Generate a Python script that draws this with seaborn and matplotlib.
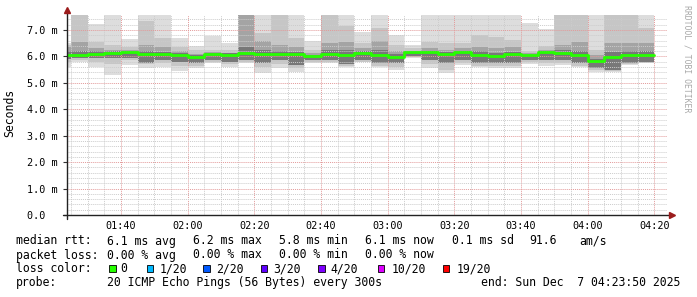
import numpy as np
import pandas as pd
import matplotlib
matplotlib.use("Agg")
import matplotlib.pyplot as plt
import matplotlib.dates as mdates
from matplotlib.patches import Rectangle
from matplotlib.ticker import MultipleLocator, FixedLocator, FixedFormatter
import seaborn as sns

# ---------------- data (ms) ----------------
bar_start = pd.date_range("2025-12-07 01:20", periods=36, freq="5min")
t_start = pd.Timestamp("2025-12-07 01:23:50")
t_end = pd.Timestamp("2025-12-07 04:23:50")

max_ms = [6.51, 7.6, 7.24, 7.6, 6.65, 7.6, 7.6, 6.69, 6.39, 6.77, 6.50, 7.6,
          7.6, 7.6, 7.6, 6.60, 7.6, 7.6, 6.94, 7.6, 6.81, 6.43, 7.6, 7.6,
          7.6, 7.6, 7.6, 7.6, 7.26, 7.02, 7.6, 7.6, 7.6, 7.6, 7.6, 7.6]
hi2_ms = [6.45, 7.6, 6.56, 6.43, 6.36, 7.35, 6.70, 6.36, 6.24, 6.24, 6.24, 7.6,
          6.89, 7.6, 6.70, 6.24, 7.6, 7.15, 6.50, 7.06, 6.43, 6.30, 6.55, 6.50,
          6.50, 6.81, 6.75, 6.62, 6.20, 6.39, 7.6, 7.6, 6.24, 7.6, 7.6, 7.06]
hi3_ms = [6.35, 6.56, 6.32, 6.25, 6.25, 6.43, 6.35, 6.20, 6.10, 6.15, 6.12, 7.6,
          6.60, 6.43, 6.35, 6.12, 6.50, 6.55, 6.30, 6.60, 6.20, 6.22, 6.30, 6.25,
          6.30, 6.37, 6.32, 6.35, 6.12, 6.25, 6.43, 6.55, 6.05, 6.50, 6.50, 6.50]
hi4_ms = [6.20, 6.20, 6.20, 6.20, 6.22, 6.20, 6.18, 6.12, 6.05, 6.12, 6.12, 6.35,
          6.25, 6.20, 6.18, 6.07, 6.25, 6.25, 6.20, 6.25, 6.10, 6.18, 6.22, 6.15,
          6.20, 6.20, 6.12, 6.18, 6.07, 6.20, 6.25, 6.20, 5.92, 6.15, 6.20, 6.22]
med_ms = [6.05, 6.06, 6.10, 6.13, 6.16, 6.10, 6.08, 6.04, 5.98, 6.09, 6.07, 6.13,
          6.10, 6.09, 6.09, 6.01, 6.10, 6.07, 6.14, 6.07, 5.98, 6.15, 6.16, 6.09,
          6.15, 6.07, 6.01, 6.09, 6.04, 6.18, 6.14, 6.05, 5.83, 5.98, 6.07, 6.07]
lo3_ms = [5.90, 5.94, 5.94, 5.94, 5.94, 5.75, 5.86, 5.80, 5.75, 5.86, 5.80, 5.86,
          5.74, 5.86, 5.68, 5.86, 5.86, 5.70, 5.86, 5.75, 5.74, 6.00, 5.86, 5.74,
          5.86, 5.74, 5.74, 5.74, 5.86, 5.86, 5.86, 5.74, 5.55, 5.49, 5.74, 5.80]
lo2_ms = [5.80, 5.88, 5.80, 5.70, 5.85, 5.70, 5.75, 5.65, 5.65, 5.80, 5.72, 5.80,
          5.60, 5.72, 5.55, 5.80, 5.78, 5.65, 5.80, 5.65, 5.60, 5.96, 5.70, 5.50,
          5.75, 5.65, 5.62, 5.62, 5.80, 5.75, 5.75, 5.65, 5.48, 5.45, 5.70, 5.76]
min_ms = [5.60, 5.80, 5.61, 5.30, 5.68, 5.56, 5.61, 5.46, 5.56, 5.75, 5.61, 5.75,
          5.36, 5.58, 5.42, 5.74, 5.74, 5.61, 5.78, 5.61, 5.49, 5.93, 5.55, 5.36,
          5.68, 5.61, 5.55, 5.55, 5.72, 5.65, 5.68, 5.61, 5.42, 5.42, 5.68, 5.74]

y_ticks = [0, 1, 2, 3, 4, 5, 6, 7]
y_labels = ["0.0  ", "1.0 m", "2.0 m", "3.0 m", "4.0 m", "5.0 m", "6.0 m", "7.0 m"]

loss_labels = ["0", "1/20", "2/20", "3/20", "4/20", "10/20", "19/20"]
loss_colors = ["#26ff00", "#00b8ff", "#0059ff", "#5e00ff", "#7e00ff", "#dd00ff", "#ff0000"]

# ---------------- figure ----------------
sns.set_theme(style="white")
plt.rcParams["font.family"] = ["DejaVu Sans Mono", "DejaVu Sans"]
W, H = 697, 297
fig = plt.figure(figsize=(W / 100, H / 100), dpi=100)
fig.patch.set_facecolor("white")
ax = fig.add_axes([67 / W, 82 / H, 600 / W, 200 / H])
ax.set_facecolor("white")
for s in ax.spines.values():
    s.set_visible(False)

edges = list(bar_start) + [bar_start[-1] + pd.Timedelta(minutes=5)]
def ext(a):
    return np.array(list(a) + [a[-1]])

layers = [(min_ms, max_ms, "#dddddd"),
          (lo2_ms, hi2_ms, "#c6c6c6"),
          (lo3_ms, hi3_ms, "#a4a4a4"),
          (lo3_ms, hi4_ms, "#787878")]
for lo, hi, c in layers:
    ax.fill_between(edges, ext(lo), ext(hi), step="post", color=c, linewidth=0, zorder=1)

df = pd.DataFrame({"t": edges, "median": ext(med_ms)})
sns.lineplot(data=df, x="t", y="median", ax=ax, color="#26ff00", linewidth=2.0,
             drawstyle="steps-post", estimator=None, zorder=3)

ax.set_xlim(t_start, t_end)
ax.set_ylim(0, 7.567)
ax.set_xlabel("")
ax.set_ylabel("")

ax.xaxis.set_major_locator(mdates.MinuteLocator(byminute=[0, 20, 40]))
ax.xaxis.set_minor_locator(mdates.MinuteLocator(byminute=range(0, 60, 5)))
ax.xaxis.set_major_formatter(mdates.DateFormatter("%H:%M"))
ax.yaxis.set_major_locator(FixedLocator(y_ticks))
ax.yaxis.set_major_formatter(FixedFormatter(y_labels))
ax.yaxis.set_minor_locator(MultipleLocator(0.2))

ax.set_axisbelow(False)
ax.grid(which="minor", color="#cccccc", linestyle=(0, (1, 1)), linewidth=0.7)
ax.grid(which="major", color="#e39a9a", linestyle=(0, (1, 1)), linewidth=0.7)

ax.tick_params(axis="x", which="both", length=0, pad=4, labelsize=7.3, colors="black")
ax.tick_params(axis="y", which="major", length=3, width=0.8, color="#333333", pad=4,
               labelsize=7.3, labelcolor="black", left=True)
ax.tick_params(axis="y", which="minor", length=0)

# axis lines with arrows
ax.plot([-4 / 600, 604 / 600], [0, 0], transform=ax.transAxes, color="#222222",
        linewidth=1.0, clip_on=False, zorder=4)
ax.plot([0, 0], [-4 / 200, 204 / 200], transform=ax.transAxes, color="#222222",
        linewidth=1.0, clip_on=False, zorder=4)
ax.plot([605 / 600], [0], transform=ax.transAxes, marker=">", markersize=4,
        color="#9b1c1c", clip_on=False, zorder=5)
ax.plot([0], [205 / 200], transform=ax.transAxes, marker="^", markersize=4,
        color="#9b1c1c", clip_on=False, zorder=5)

def fx(px):
    return px / W
def fy(py):
    return 1 - py / H

fig.text(fx(10), fy(113), "Seconds", rotation=90, ha="center", va="center", fontsize=8.3,
         color="black")
fig.text(fx(687), fy(5), "RRDTOOL / TOBI OETIKER", rotation=270, ha="center", va="top",
         fontsize=5.9, color="#a8a8a8")

fs = 8.3
def t(px, py, s, ha="left"):
    fig.text(fx(px), fy(py), s, ha=ha, va="center", fontsize=fs, color="black")

y1, y2, y3, y4 = 241, 255, 268.5, 282.5
t(16, y1, "median rtt:")
for px, s in [(107.3, "6.1 ms avg"), (193.3, "6.2 ms max"), (279.3, "5.8 ms min"),
              (365, "6.1 ms now"), (451.7, "0.1 ms sd"), (529, "91.6"), (579.3, "am/s")]:
    t(px, y1, s)
t(16, y2, "packet loss:")
for px, s in [(107.3, "0.00 % avg"), (193.3, "0.00 % max"), (279.3, "0.00 % min"),
              (365, "0.00 % now")]:
    t(px, y2, s)
t(16, y3, "loss color:")
box_x = [109, 146.7, 203.3, 260.7, 318.3, 377.7, 443]
txt_x = [120.7, 159.3, 216, 273.3, 330.7, 391.7, 457]
for bx, tx, lab, col in zip(box_x, txt_x, loss_labels, loss_colors):
    fig.patches.append(Rectangle((fx(bx), fy(y3 + 3.3)), 6.5 / W, 6.5 / H,
                                 transform=fig.transFigure, facecolor=col,
                                 edgecolor="black", linewidth=0.6))
    t(tx, y3, lab)
t(16, y4, "probe:")
t(107.3, y4, "20 ICMP Echo Pings (56 Bytes) every 300s")
t(680, y4, "end: Sun Dec  7 04:23:50 2025", ha="right")

fig.savefig("out.png", dpi=100, facecolor="white")
